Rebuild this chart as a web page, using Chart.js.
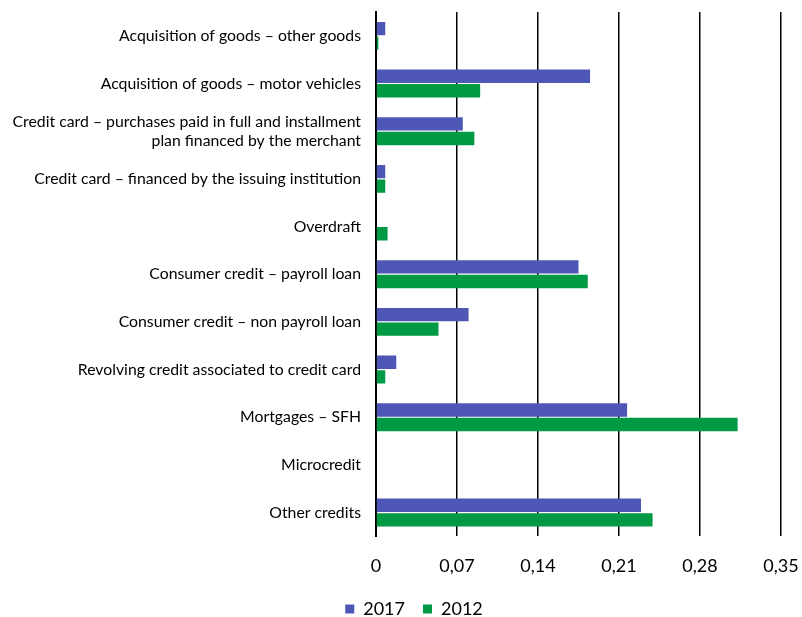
<!DOCTYPE html>
<html>
<head>
<meta charset="utf-8">
<script src="https://cdn.jsdelivr.net/npm/chart.js@4/dist/chart.umd.min.js"></script>
<style>
  html, body { margin: 0; padding: 0; background: #fff; }
  #wrap { width: 802px; height: 617px; }
</style>
</head>
<body>
<div id="wrap"><canvas id="creditChart" width="802" height="617"></canvas></div>
<script>
// categories, top to bottom
const categories = [
  'Acquisition of goods – other goods',
  'Acquisition of goods – motor vehicles',
  ['Credit card – purchases paid in full and installment', 'plan financed by the merchant'],
  'Credit card – financed by the issuing institution',
  'Overdraft',
  'Consumer credit – payroll loan',
  'Consumer credit – non payroll loan',
  'Revolving credit associated to credit card',
  'Mortgages – SFH',
  'Microcredit',
  'Other credits'
];

const values2017 = [0.008, 0.185, 0.075, 0.008, 0, 0.175, 0.080, 0.0175, 0.217, 0, 0.229];
const values2012 = [0.002, 0.090, 0.085, 0.008, 0.010, 0.183, 0.054, 0.008, 0.3125, 0, 0.239];

const xTicks = [0, 0.07, 0.14, 0.21, 0.28, 0.35];

const FONT = 'Lato, "Open Sans", sans-serif';

// legend sits closer to the axis (and a bit right) compared to chart.js default
const legendNudge = {
  id: 'legendNudge',
  beforeInit(chart) {
    const legend = chart.legend;
    const origFit = legend.fit;
    legend.fit = function () {
      origFit.call(this);
      this.height -= 25;
    };
  },
  afterLayout(chart) {
    const legend = chart.legend;
    legend.top -= 14;
    legend.bottom = chart.height;
    legend.height = legend.bottom - legend.top;
    legend.left += 13;
    legend.right += 13;
  }
};

const ctx = document.getElementById('creditChart').getContext('2d');
new Chart(ctx, {
  type: 'bar',
  data: {
    labels: categories,
    datasets: [
      { label: '2017', data: values2017, backgroundColor: '#4F57B6' },
      { label: '2012', data: values2012, backgroundColor: '#009A44' }
    ]
  },
  options: {
    indexAxis: 'y',
    responsive: false,
    animation: false,
    datasets: { bar: { categoryPercentage: 0.61, barPercentage: 0.92 } },
    layout: { padding: { top: 12, right: 0, left: 0, bottom: 0 } },
    scales: {
      x: {
        min: 0,
        max: 0.35,
        afterBuildTicks: (axis) => { axis.ticks = xTicks.map(v => ({ value: v })); },
        afterFit: (axis) => { axis.paddingRight = 21; axis.paddingLeft = 0; },
        grid: { color: '#000', lineWidth: 1.5, tickLength: 0, drawTicks: false },
        border: { display: false },
        ticks: {
          color: '#000',
          font: { family: FONT, size: 18 },
          padding: 19,
          callback: (v) => v === 0 ? '0' : Number(v).toFixed(2).replace('.', ',')
        }
      },
      y: {
        afterFit: (axis) => { axis.width = 376; axis.paddingTop = 0; axis.paddingBottom = 0; },
        grid: { display: false, drawTicks: false },
        border: { display: true, color: '#000', width: 2 },
        ticks: {
          color: '#000',
          font: { family: FONT, size: 15.8 },
          padding: 15,
          autoSkip: false
        }
      }
    },
    plugins: {
      legend: {
        position: 'bottom',
        labels: {
          color: '#000',
          font: { family: FONT, size: 18 },
          boxWidth: 9,
          boxHeight: 9,
          padding: 18
        }
      },
      tooltip: { enabled: false }
    }
  },
  plugins: [legendNudge]
});
</script>
</body>
</html>
